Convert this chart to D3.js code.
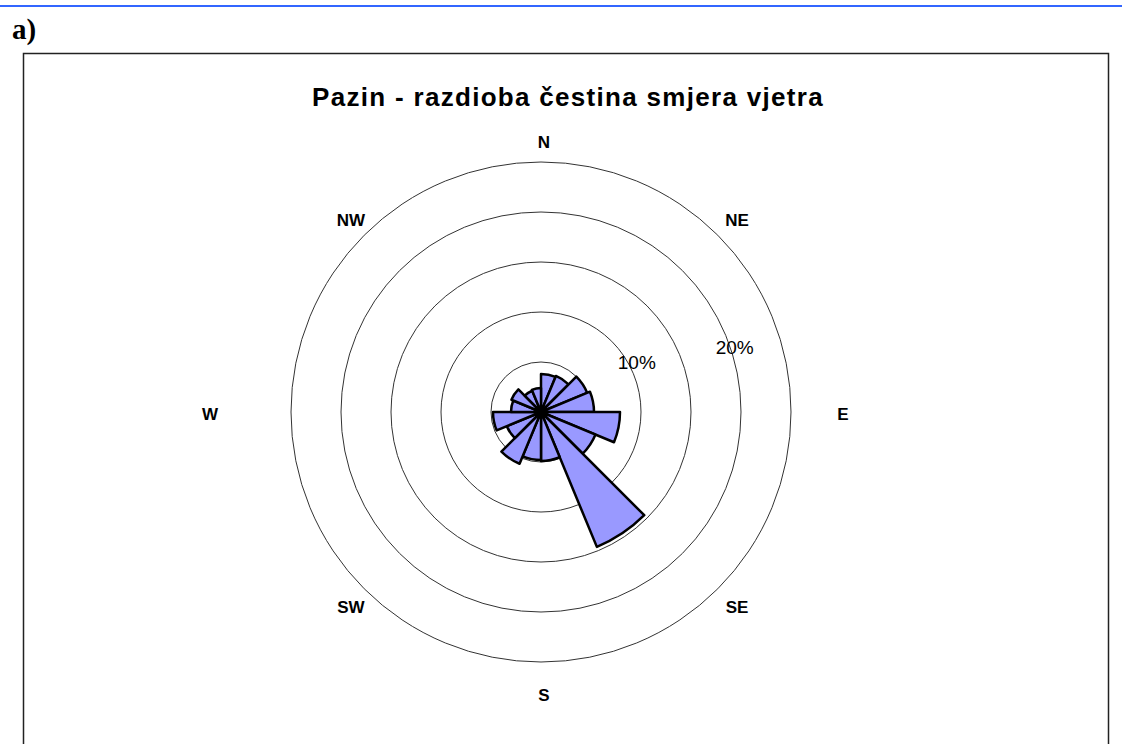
<!DOCTYPE html>
<html>
<head>
<meta charset="utf-8">
<script src="https://cdn.jsdelivr.net/npm/d3@7"></script>
<style>
    body { margin: 0; background: #fff; }
    svg { display: block; }
</style>
</head>
<body>
<div id="chart"></div>
<script>
    'use strict';

    // wind direction frequencies (%), 16 sectors of 22.5 deg, clockwise from N
    var sectorValues = [3.8, 3.9, 5.0, 5.3, 7.9, 5.9, 14.6, 4.9, 4.8, 5.6, 3.7, 4.8, 3.0, 3.2, 2.3, 2.4];
    var directions = ["N", "NE", "E", "SE", "S", "SW", "W", "NW"];
    var ringTicks = [5, 10, 15, 20, 25];
    var labelTicks = [10, 20];
    var labelTickText = ["10%", "20%"];
    var title = "Pazin - razdioba čestina smjera vjetra";

    var width = 1122, height = 744;
    var cx = 541, cy = 412;
    var maxRadius = 250;

    var svg = d3.select("#chart").append("svg")
        .attr("width", width)
        .attr("height", height);

    // top blue rule and panel letter
    svg.append("line")
        .attr("x1", 0).attr("x2", width)
        .attr("y1", 6).attr("y2", 6)
        .attr("stroke", "#3366ff")
        .attr("stroke-width", 2);

    svg.append("text")
        .attr("x", 12).attr("y", 39)
        .attr("font-family", "Liberation Serif, Times New Roman, serif")
        .attr("font-weight", "bold")
        .attr("font-size", "29px")
        .text("a)");

    // chart frame (runs off the bottom)
    svg.append("rect")
        .attr("x", 23.5).attr("y", 53.5)
        .attr("width", 1085).attr("height", 720)
        .attr("fill", "#fff")
        .attr("stroke", "#222")
        .attr("stroke-width", 1.5);

    svg.append("text")
        .attr("x", 568).attr("y", 106)
        .attr("text-anchor", "middle")
        .attr("font-family", "Liberation Sans, Arial, sans-serif")
        .attr("font-weight", "bold")
        .attr("font-size", "26px")
        .attr("letter-spacing", "1.3px")
        .text(title);

    var r = d3.scaleLinear().domain([0, 25]).range([0, maxRadius]);
    var sectorAngle = 2 * Math.PI / sectorValues.length;

    var g = svg.append("g").attr("transform", "translate(" + cx + "," + cy + ")");

    // rings
    g.selectAll(".ring")
        .data(ringTicks)
        .enter().append("circle")
        .attr("class", "ring")
        .attr("r", function (d) { return r(d); })
        .attr("fill", "none")
        .attr("stroke", "#333")
        .attr("stroke-width", 1);

    // wedges
    var arc = d3.arc()
        .innerRadius(0)
        .outerRadius(function (d) { return r(d.value); })
        .startAngle(function (d) { return d.index * sectorAngle; })
        .endAngle(function (d) { return (d.index + 1) * sectorAngle; });

    g.selectAll(".wedge")
        .data(sectorValues.map(function (v, i) { return { value: v, index: i }; }))
        .enter().append("path")
        .attr("class", "wedge")
        .attr("d", arc)
        .attr("fill", "#9999ff")
        .attr("stroke", "#000")
        .attr("stroke-width", 2.5)
        .attr("stroke-linejoin", "round");

    g.append("circle")
        .attr("r", 5)
        .attr("fill", "#000");

    // ring labels
    var labelAngles = [62.5, 71.7];
    var labelPad = [8, 4];
    g.selectAll(".ring-label")
        .data(labelTicks)
        .enter().append("text")
        .attr("class", "ring-label")
        .attr("x", function (d, i) { return Math.sin(labelAngles[i] * Math.PI / 180) * (r(d) + labelPad[i]); })
        .attr("y", function (d, i) { return -Math.cos(labelAngles[i] * Math.PI / 180) * (r(d) + labelPad[i]); })
        .attr("text-anchor", "middle")
        .attr("dominant-baseline", "central")
        .attr("font-family", "Liberation Sans, Arial, sans-serif")
        .attr("font-size", "19px")
        .text(function (d, i) { return labelTickText[i]; });

    // direction labels
    var dirRadius = [272, 273, 299, 273, 281, 273, 334, 273];
    g.selectAll(".dir")
        .data(directions)
        .enter().append("text")
        .attr("class", "dir")
        .attr("x", function (d, i) { return Math.sin(i * Math.PI / 4) * dirRadius[i] + 3; })
        .attr("y", function (d, i) { return -Math.cos(i * Math.PI / 4) * dirRadius[i] + 2; })
        .attr("text-anchor", "middle")
        .attr("dominant-baseline", "central")
        .attr("font-family", "Liberation Sans, Arial, sans-serif")
        .attr("font-weight", "bold")
        .attr("font-size", "17px")
        .text(function (d) { return d; });
</script>
</body>
</html>
